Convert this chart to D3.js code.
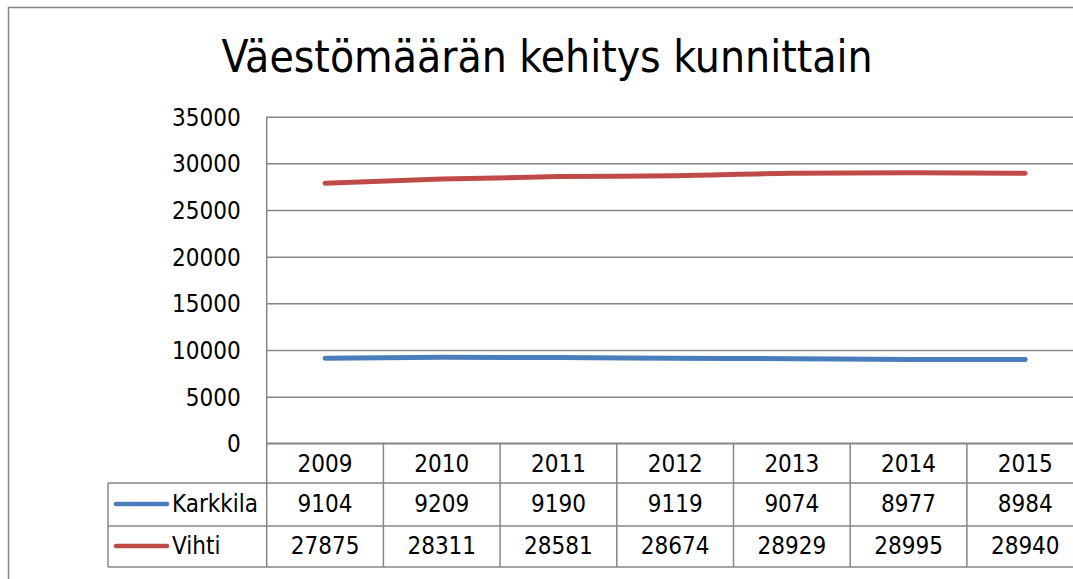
<!DOCTYPE html>
<html>
<head>
<meta charset="utf-8">
<script src="https://cdn.jsdelivr.net/npm/d3@7"></script>
<style>
  html, body { margin: 0; padding: 0; background: #fff; }
  svg { display: block; }
  text { font-family: "DejaVu Sans Condensed", "Liberation Sans", sans-serif; fill: #000; }
</style>
</head>
<body>
<div id="chart"></div>
<script>
// data
const years = ['2009', '2010', '2011', '2012', '2013', '2014', '2015'];
const karkkila = [9104, 9209, 9190, 9119, 9074, 8977, 8984];
const vihti = [27875, 28311, 28581, 28674, 28929, 28995, 28940];
const seriesNames = ['Karkkila', 'Vihti'];
const seriesColors = ['#4a7ebb', '#be4b48'];
const yTicks = [0, 5000, 10000, 15000, 20000, 25000, 30000, 35000];
const title = 'Väestömäärän kehitys kunnittain';

(function() {
    const W = 1073, H = 579;
    const gridColor = '#868686';
    const fs = '24px';

    const svg = d3.select('#chart').append('svg')
        .attr('width', W)
        .attr('height', H);

    // chart area border (runs off the right/bottom edge)
    svg.append('rect')
        .attr('x', 8.5).attr('y', 7.5)
        .attr('width', 1100).attr('height', 600)
        .attr('fill', '#fff')
        .attr('stroke', gridColor)
        .attr('stroke-width', 1.5);

    // title
    svg.append('text')
        .attr('x', 547).attr('y', 72)
        .attr('text-anchor', 'middle')
        .style('font-size', '44px')
        .text(title);

    const left = 266.7, colW = 116.7;
    const right = left + colW * years.length;
    const top = 116.7, bottom = 443.3;

    const x = d3.scaleBand().domain(years).range([left, right]);
    const y = d3.scaleLinear().domain([0, 35000]).range([bottom, top]);

    // gridlines + y labels
    const yAxis = svg.append('g')
        .attr('transform', `translate(${left},0)`)
        .call(d3.axisLeft(y).tickValues(yTicks).tickSize(-(right - left)).tickPadding(26).tickFormat(d3.format('d')));
    yAxis.select('.domain').remove();
    yAxis.selectAll('.tick line').attr('stroke', gridColor).attr('stroke-width', 1.5);
    yAxis.selectAll('.tick text')
        .attr('dy', '0.36em')
        .style('font-size', fs)
        .style('font-family', '"DejaVu Sans Condensed", "Liberation Sans", sans-serif');

    // data table
    const rowTops = [bottom, 483, 526, 567];
    const legLeft = 108;
    const table = svg.append('g').attr('stroke', gridColor).attr('stroke-width', 1.5);

    // vertical axis line through table
    table.append('line').attr('x1', left).attr('x2', left).attr('y1', top).attr('y2', rowTops[3]);
    years.forEach(yr => {
        const xx = x(yr) + x.bandwidth();
        table.append('line').attr('x1', xx).attr('x2', xx).attr('y1', rowTops[0]).attr('y2', rowTops[3]);
    });
    table.append('line').attr('x1', legLeft).attr('x2', legLeft).attr('y1', rowTops[1]).attr('y2', rowTops[3]);
    table.append('line').attr('x1', left).attr('x2', right).attr('y1', rowTops[0]).attr('y2', rowTops[0]);
    [rowTops[1], rowTops[2], rowTops[3]].forEach(yy => {
        table.append('line').attr('x1', legLeft).attr('x2', right).attr('y1', yy).attr('y2', yy);
    });

    // header row
    svg.append('g').selectAll('text')
        .data(years)
        .enter().append('text')
        .attr('x', d => x(d) + x.bandwidth() / 2)
        .attr('y', 472)
        .attr('text-anchor', 'middle')
        .style('font-size', fs)
        .text(d => d);

    // value rows
    const rows = [karkkila, vihti];
    const baselines = [512, 554];
    const legendY = [504, 546];
    rows.forEach((vals, r) => {
        svg.append('g').selectAll('text')
            .data(vals)
            .enter().append('text')
            .attr('x', (d, i) => x(years[i]) + x.bandwidth() / 2)
            .attr('y', baselines[r])
            .attr('text-anchor', 'middle')
            .style('font-size', fs)
            .text(d => d);

        svg.append('line')
            .attr('x1', 116).attr('x2', 167)
            .attr('y1', legendY[r]).attr('y2', legendY[r])
            .attr('stroke', seriesColors[r])
            .attr('stroke-width', 4.5)
            .attr('stroke-linecap', 'round');
        svg.append('text')
            .attr('x', 172).attr('y', baselines[r])
            .style('font-size', fs)
            .text(seriesNames[r]);
    });

    // series lines
    const line = d3.line()
        .x((d, i) => x(years[i]) + x.bandwidth() / 2)
        .y(d => y(d))
        .curve(d3.curveMonotoneX);

    rows.forEach((vals, r) => {
        svg.append('path')
            .datum(vals)
            .attr('fill', 'none')
            .attr('stroke', seriesColors[r])
            .attr('stroke-width', 5)
            .attr('stroke-linecap', 'round')
            .attr('d', line);
    });
})();
</script>
</body>
</html>
